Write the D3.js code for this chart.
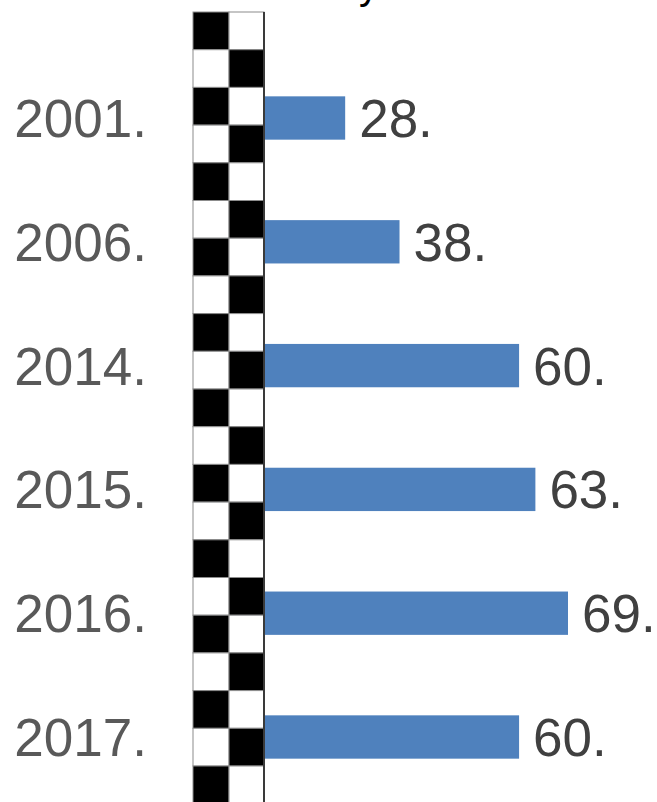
<!DOCTYPE html>
<html>
<head>
<meta charset="utf-8">
<script src="https://cdn.jsdelivr.net/npm/d3@7.9.0/dist/d3.min.js"></script>
<style>
  html, body { margin: 0; padding: 0; background: #fff; }
  svg { display: block; font-family: "Liberation Sans", Arial, sans-serif; }
</style>
</head>
<body>
<svg id="chart" width="657" height="802"></svg>
<script>
/* ──── data ──── */
const years  = ['2001.', '2006.', '2014.', '2015.', '2016.', '2017.'];
const values = [28, 38, 60, 63, 69, 60];
const valueLabels = ['28.', '38.', '60.', '63.', '69.', '60.'];

/* ──── layout ──── */
const width  = 657;
const height = 802;
const svg = d3.select('#chart');

const x = d3.scaleLinear()
  .domain([0, 69])
  .range([193, 568]);

const y = d3.scaleBand()
  .domain(years)
  .range([56.1, 798.9])
  .paddingInner(0.65)
  .paddingOuter(0.325);

/* checker strip rows */
const rowIdx = d3.range(21);
const rowY = d3.scaleBand()
  .domain(rowIdx)
  .range([12, 12 + 21 * 37.7]);

/* title remnant cut off at the top */
svg.append('text')
  .attr('x', 359)
  .attr('y', -1)
  .attr('font-size', 40)
  .attr('fill', '#000')
  .text('y');

/* ──── bars ──── */
svg.append('g')
  .selectAll('rect')
  .data(years)
  .join('rect')
  .attr('x', x(0))
  .attr('y', d => y(d))
  .attr('width', (d, i) => x(values[i]) - x(0))
  .attr('height', y.bandwidth())
  .attr('fill', '#4f81bd');

/* ──── checker strip (drawn over the bars' base) ──── */
const colX = [193, 229, 264];
const cells = [];
rowIdx.forEach(r => {
  [0, 1].forEach(c => cells.push({ r, c }));
});

svg.append('g')
  .selectAll('rect')
  .data(cells)
  .join('rect')
  .attr('x', d => colX[d.c])
  .attr('y', d => rowY(d.r))
  .attr('width', d => colX[d.c + 1] - colX[d.c])
  .attr('height', rowY.bandwidth())
  .attr('fill', d => ((d.r + d.c) % 2 === 0) ? '#000' : '#fff')
  .attr('stroke', '#8c8c8c')
  .attr('stroke-width', 1);

/* axis line */
svg.append('line')
  .attr('x1', 264).attr('x2', 264)
  .attr('y1', 12).attr('y2', height)
  .attr('stroke', '#3a3a3a')
  .attr('stroke-width', 2);

/* ──── category labels ──── */
svg.append('g')
  .selectAll('text')
  .data(years)
  .join('text')
  .attr('x', 147)
  .attr('y', d => y(d) + y.bandwidth() / 2)
  .attr('dy', '0.36em')
  .attr('text-anchor', 'end')
  .attr('font-size', 53)
  .attr('fill', '#595959')
  .text(d => d);

/* ──── value labels ──── */
svg.append('g')
  .selectAll('text')
  .data(years)
  .join('text')
  .attr('x', (d, i) => x(values[i]) + 14)
  .attr('y', d => y(d) + y.bandwidth() / 2)
  .attr('dy', '0.36em')
  .attr('font-size', 53)
  .attr('fill', '#404040')
  .text((d, i) => valueLabels[i]);
</script>
</body>
</html>
